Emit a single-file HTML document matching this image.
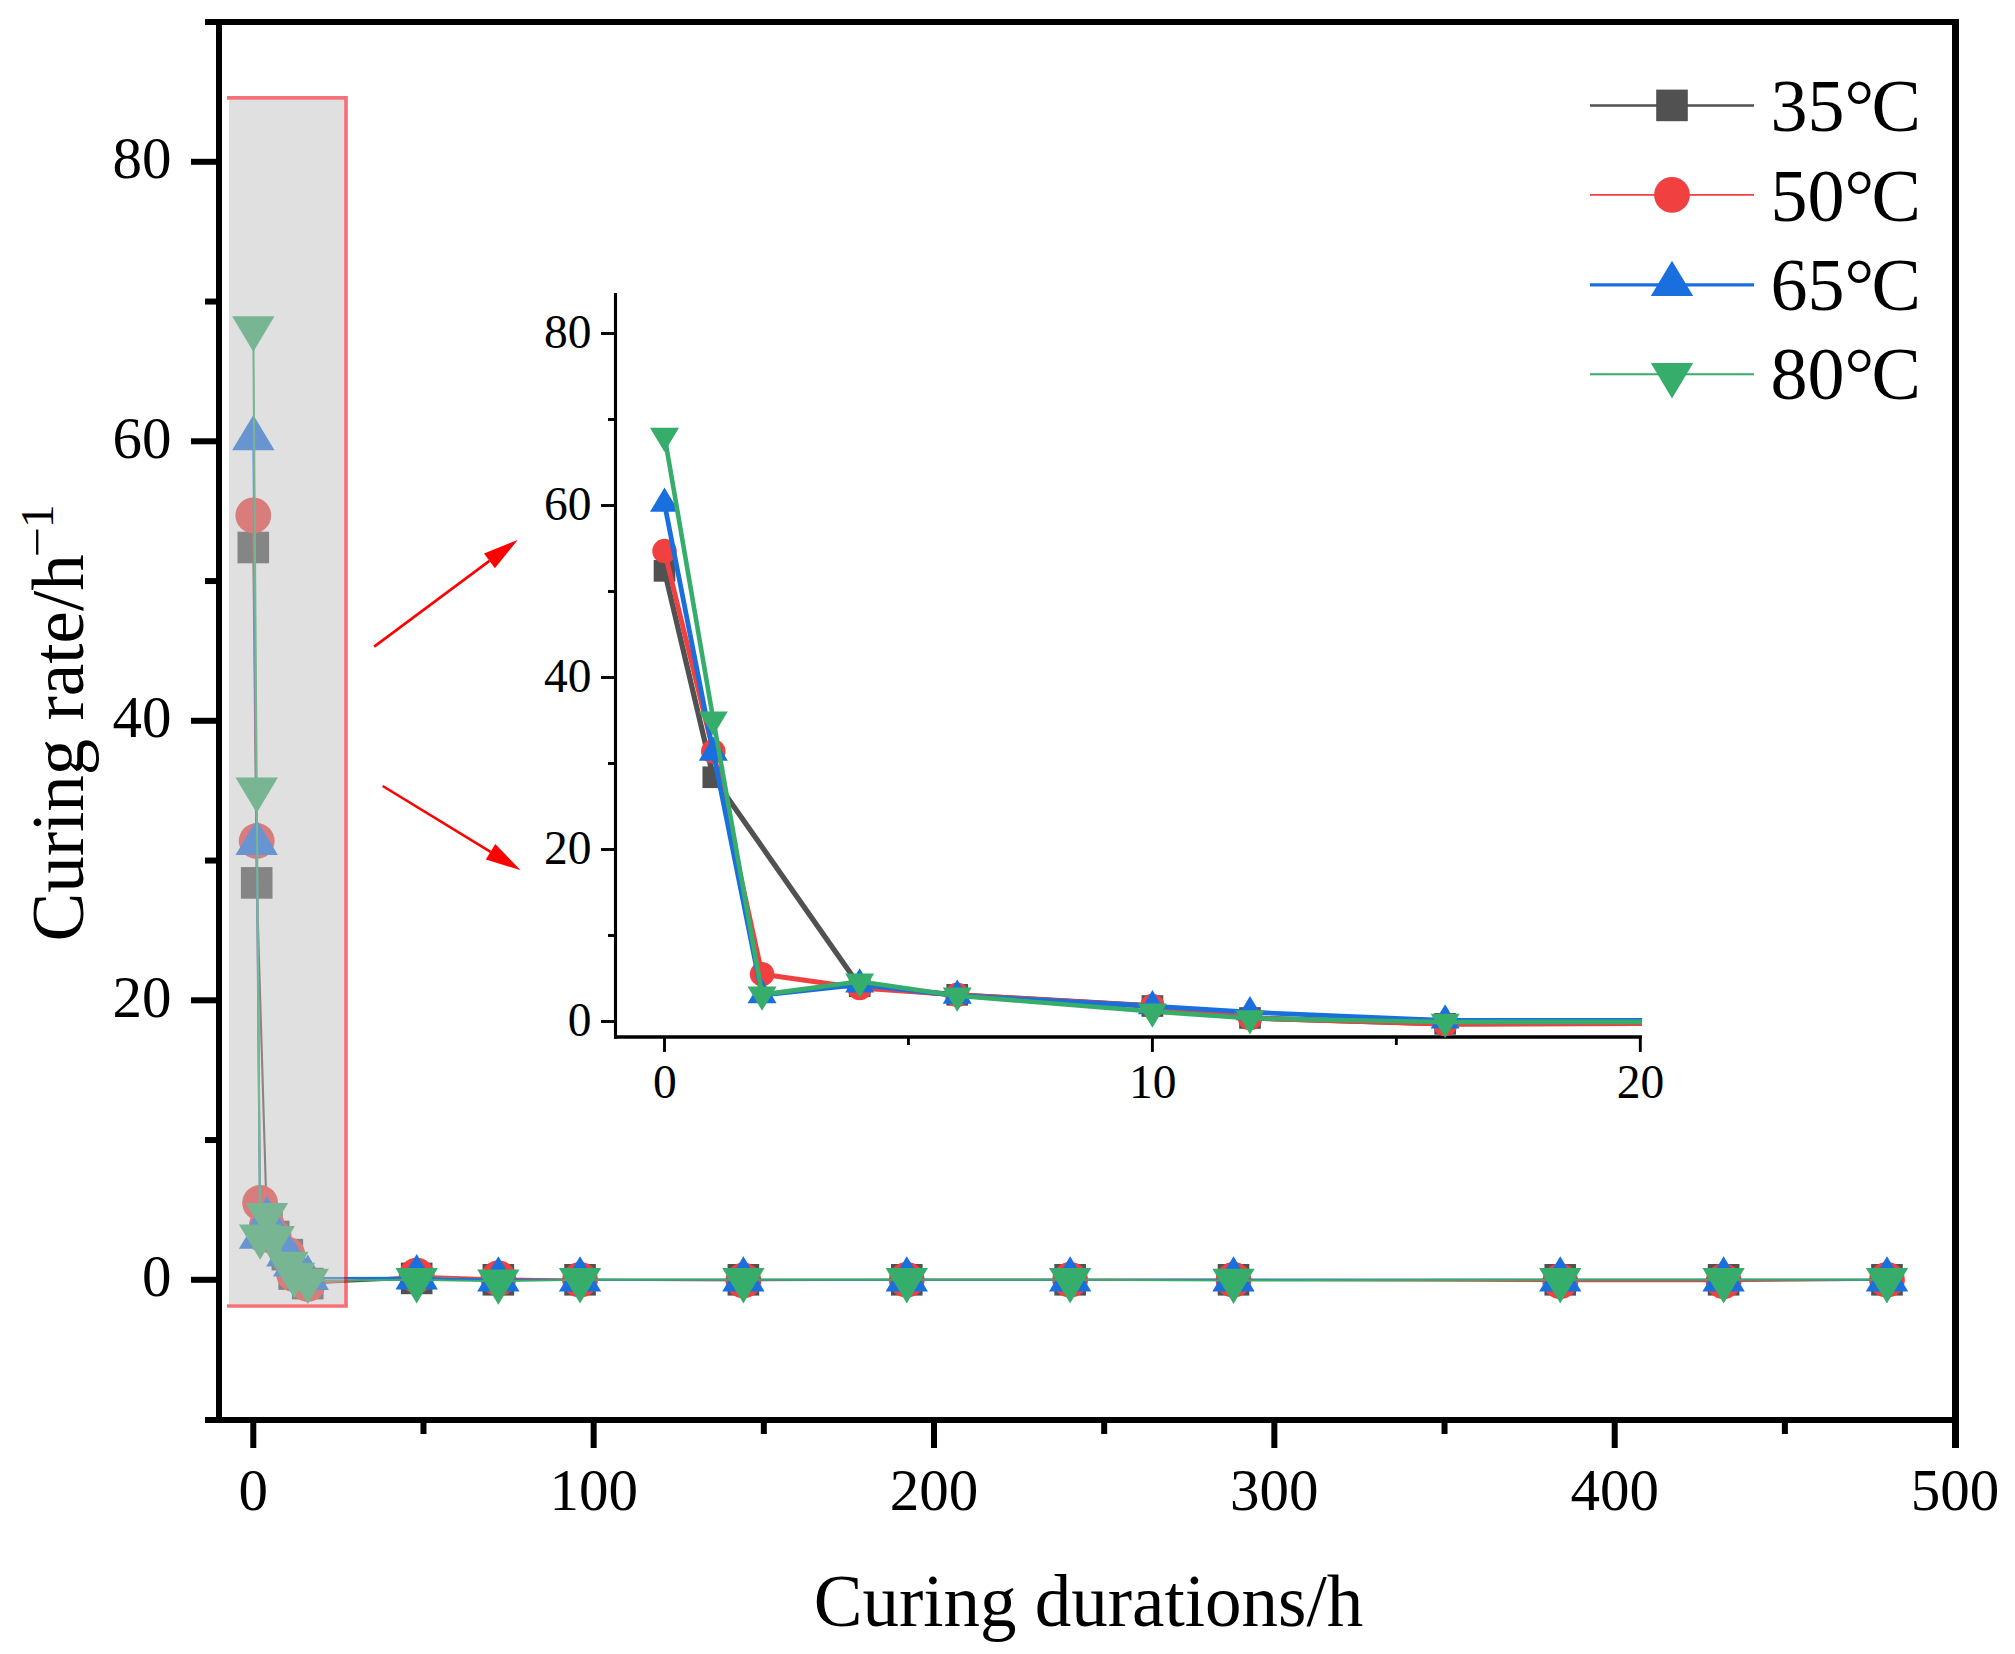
<!DOCTYPE html>
<html lang="en">
<head>
<meta charset="utf-8">
<title>Curing rate vs curing durations</title>
<style>
html,body{margin:0;padding:0;background:#fff;}
body{width:2015px;height:1654px;overflow:hidden;}
svg{display:block;}
text{font-family:"Liberation Serif","Times New Roman",Times,serif;fill:#000;}
.tk{font-size:59px;}
.itk{font-size:47.5px;}
.ttl{font-size:73px;}
.lg{font-size:74px;}
</style>
</head>
<body>
<svg width="2015" height="1654" viewBox="0 0 2015 1654">
<defs>
<clipPath id="insetclip"><rect x="617.8" y="280" width="1024.2" height="755.5"/></clipPath>
<clipPath id="mainclip"><rect x="222" y="25" width="1730" height="1392"/></clipPath>
</defs>
<rect x="0" y="0" width="2015" height="1654" fill="#ffffff"/>

<g clip-path="url(#mainclip)">
<polyline fill="none" stroke="#515151" stroke-width="2.1" stroke-linejoin="round" points="253.3,547.51 256.7,882.91 266.91,1222.5 273.72,1236.48 287.34,1254.64 294.14,1274.07 307.76,1283.57 416.67,1278.4 498.35,1279.8 580.04,1279.8 743.4,1279.8 906.77,1279.8 1070.14,1279.8 1233.51,1279.8 1560.24,1279.8 1723.61,1279.8 1886.98,1279.8"/>
<rect x="237.5" y="531.71" width="31.6" height="31.6" fill="#515151"/>
<rect x="240.9" y="867.11" width="31.6" height="31.6" fill="#515151"/>
<rect x="251.11" y="1206.7" width="31.6" height="31.6" fill="#515151"/>
<rect x="257.92" y="1220.68" width="31.6" height="31.6" fill="#515151"/>
<rect x="271.54" y="1238.85" width="31.6" height="31.6" fill="#515151"/>
<rect x="278.34" y="1258.27" width="31.6" height="31.6" fill="#515151"/>
<rect x="291.96" y="1267.77" width="31.6" height="31.6" fill="#515151"/>
<rect x="400.87" y="1262.6" width="31.6" height="31.6" fill="#515151"/>
<rect x="482.55" y="1264" width="31.6" height="31.6" fill="#515151"/>
<rect x="564.24" y="1264" width="31.6" height="31.6" fill="#515151"/>
<rect x="727.6" y="1264" width="31.6" height="31.6" fill="#515151"/>
<rect x="890.97" y="1264" width="31.6" height="31.6" fill="#515151"/>
<rect x="1054.34" y="1264" width="31.6" height="31.6" fill="#515151"/>
<rect x="1217.71" y="1264" width="31.6" height="31.6" fill="#515151"/>
<rect x="1544.44" y="1264" width="31.6" height="31.6" fill="#515151"/>
<rect x="1707.81" y="1264" width="31.6" height="31.6" fill="#515151"/>
<rect x="1871.18" y="1264" width="31.6" height="31.6" fill="#515151"/>
<polyline fill="none" stroke="#f14040" stroke-width="1.9" stroke-linejoin="round" points="253.3,515.37 256.7,840.99 260.11,1202.94 266.91,1225.3 273.72,1236.48 287.34,1254.64 294.14,1274.21 307.76,1283.99 416.67,1275.61 498.35,1278.4 580.04,1279.8 743.4,1280.5 906.77,1279.8 1070.14,1279.8 1233.51,1279.8 1560.24,1281.2 1723.61,1281.2 1886.98,1279.8"/>
<circle cx="253.3" cy="515.37" r="17.9" fill="#f14040"/>
<circle cx="256.7" cy="840.99" r="17.9" fill="#f14040"/>
<circle cx="260.11" cy="1202.94" r="17.9" fill="#f14040"/>
<circle cx="266.91" cy="1225.3" r="17.9" fill="#f14040"/>
<circle cx="273.72" cy="1236.48" r="17.9" fill="#f14040"/>
<circle cx="287.34" cy="1254.64" r="17.9" fill="#f14040"/>
<circle cx="294.14" cy="1274.21" r="17.9" fill="#f14040"/>
<circle cx="307.76" cy="1283.99" r="17.9" fill="#f14040"/>
<circle cx="416.67" cy="1275.61" r="17.9" fill="#f14040"/>
<circle cx="498.35" cy="1278.4" r="17.9" fill="#f14040"/>
<circle cx="580.04" cy="1279.8" r="17.9" fill="#f14040"/>
<circle cx="743.4" cy="1280.5" r="17.9" fill="#f14040"/>
<circle cx="906.77" cy="1279.8" r="17.9" fill="#f14040"/>
<circle cx="1070.14" cy="1279.8" r="17.9" fill="#f14040"/>
<circle cx="1233.51" cy="1279.8" r="17.9" fill="#f14040"/>
<circle cx="1560.24" cy="1281.2" r="17.9" fill="#f14040"/>
<circle cx="1723.61" cy="1281.2" r="17.9" fill="#f14040"/>
<circle cx="1886.98" cy="1279.8" r="17.9" fill="#f14040"/>
<polyline fill="none" stroke="#1a6fdf" stroke-width="2.0" stroke-linejoin="round" points="253.3,438.5 256.7,843.08 260.11,1237.04 266.91,1219.71 273.72,1237.88 287.34,1254.78 294.14,1264.71 307.76,1278.12 416.67,1277.7 498.35,1279.8 580.04,1279.8 743.4,1279.8 906.77,1279.8 1070.14,1279.8 1233.51,1279.8 1560.24,1279.8 1723.61,1279.8 1886.98,1279.8"/>
<polygon points="253.3,414.9 274.5,450.3 232.1,450.3" fill="#1a6fdf"/>
<polygon points="256.7,819.48 277.9,854.88 235.5,854.88" fill="#1a6fdf"/>
<polygon points="260.11,1213.44 281.31,1248.84 238.91,1248.84" fill="#1a6fdf"/>
<polygon points="266.91,1196.11 288.11,1231.51 245.71,1231.51" fill="#1a6fdf"/>
<polygon points="273.72,1214.28 294.92,1249.67 252.52,1249.67" fill="#1a6fdf"/>
<polygon points="287.34,1231.18 308.54,1266.58 266.14,1266.58" fill="#1a6fdf"/>
<polygon points="294.14,1241.11 315.34,1276.51 272.94,1276.51" fill="#1a6fdf"/>
<polygon points="307.76,1254.52 328.96,1289.92 286.56,1289.92" fill="#1a6fdf"/>
<polygon points="416.67,1254.1 437.87,1289.5 395.47,1289.5" fill="#1a6fdf"/>
<polygon points="498.35,1256.2 519.55,1291.6 477.15,1291.6" fill="#1a6fdf"/>
<polygon points="580.04,1256.2 601.24,1291.6 558.84,1291.6" fill="#1a6fdf"/>
<polygon points="743.4,1256.2 764.6,1291.6 722.2,1291.6" fill="#1a6fdf"/>
<polygon points="906.77,1256.2 927.97,1291.6 885.57,1291.6" fill="#1a6fdf"/>
<polygon points="1070.14,1256.2 1091.34,1291.6 1048.94,1291.6" fill="#1a6fdf"/>
<polygon points="1233.51,1256.2 1254.71,1291.6 1212.31,1291.6" fill="#1a6fdf"/>
<polygon points="1560.24,1256.2 1581.44,1291.6 1539.04,1291.6" fill="#1a6fdf"/>
<polygon points="1723.61,1256.2 1744.81,1291.6 1702.41,1291.6" fill="#1a6fdf"/>
<polygon points="1886.98,1256.2 1908.18,1291.6 1865.78,1291.6" fill="#1a6fdf"/>
<polyline fill="none" stroke="#37ad6b" stroke-width="2.1" stroke-linejoin="round" points="253.3,328.1 256.7,789.28 260.11,1236.2 266.91,1214.82 273.72,1237.88 287.34,1263.59 294.14,1274.63 307.76,1280.5 416.67,1279.8 498.35,1281.2 580.04,1279.8 743.4,1279.8 906.77,1279.8 1070.14,1279.8 1233.51,1280.5 1560.24,1279.8 1723.61,1279.8 1886.98,1279.8"/>
<polygon points="253.3,351.7 274.5,316.3 232.1,316.3" fill="#37ad6b"/>
<polygon points="256.7,812.88 277.9,777.48 235.5,777.48" fill="#37ad6b"/>
<polygon points="260.11,1259.8 281.31,1224.4 238.91,1224.4" fill="#37ad6b"/>
<polygon points="266.91,1238.42 288.11,1203.02 245.71,1203.02" fill="#37ad6b"/>
<polygon points="273.72,1261.47 294.92,1226.08 252.52,1226.08" fill="#37ad6b"/>
<polygon points="287.34,1287.19 308.54,1251.79 266.14,1251.79" fill="#37ad6b"/>
<polygon points="294.14,1298.23 315.34,1262.83 272.94,1262.83" fill="#37ad6b"/>
<polygon points="307.76,1304.1 328.96,1268.7 286.56,1268.7" fill="#37ad6b"/>
<polygon points="416.67,1303.4 437.87,1268 395.47,1268" fill="#37ad6b"/>
<polygon points="498.35,1304.8 519.55,1269.4 477.15,1269.4" fill="#37ad6b"/>
<polygon points="580.04,1303.4 601.24,1268 558.84,1268" fill="#37ad6b"/>
<polygon points="743.4,1303.4 764.6,1268 722.2,1268" fill="#37ad6b"/>
<polygon points="906.77,1303.4 927.97,1268 885.57,1268" fill="#37ad6b"/>
<polygon points="1070.14,1303.4 1091.34,1268 1048.94,1268" fill="#37ad6b"/>
<polygon points="1233.51,1304.1 1254.71,1268.7 1212.31,1268.7" fill="#37ad6b"/>
<polygon points="1560.24,1303.4 1581.44,1268 1539.04,1268" fill="#37ad6b"/>
<polygon points="1723.61,1303.4 1744.81,1268 1702.41,1268" fill="#37ad6b"/>
<polygon points="1886.98,1303.4 1908.18,1268 1865.78,1268" fill="#37ad6b"/>
</g>
<rect x="229" y="99.7" width="115" height="1204.4" fill="rgb(190,190,190)" fill-opacity="0.48"/>
<polyline points="227,97.9 346,97.9 346,1306 227,1306" fill="none" stroke="rgb(237,28,36)" stroke-opacity="0.62" stroke-width="3.7" stroke-linejoin="miter"/>
<g stroke="#000" stroke-width="6" fill="none" stroke-linecap="butt">
<line x1="219" y1="19" x2="219" y2="1423"/>
<line x1="1955.5" y1="19" x2="1955.5" y2="1448" stroke-width="7"/>
<line x1="205" y1="22" x2="1959" y2="22"/>
<line x1="205" y1="1420" x2="1959" y2="1420"/>
<line x1="191" y1="1279.8" x2="217" y2="1279.8"/>
<line x1="191" y1="1000.3" x2="217" y2="1000.3"/>
<line x1="191" y1="720.8" x2="217" y2="720.8"/>
<line x1="191" y1="441.3" x2="217" y2="441.3"/>
<line x1="191" y1="161.8" x2="217" y2="161.8"/>
<line x1="205" y1="1140.05" x2="217" y2="1140.05"/>
<line x1="205" y1="860.55" x2="217" y2="860.55"/>
<line x1="205" y1="581.05" x2="217" y2="581.05"/>
<line x1="205" y1="301.55" x2="217" y2="301.55"/>
<line x1="253.3" y1="1422" x2="253.3" y2="1448"/>
<line x1="593.65" y1="1422" x2="593.65" y2="1448"/>
<line x1="934" y1="1422" x2="934" y2="1448"/>
<line x1="1274.35" y1="1422" x2="1274.35" y2="1448"/>
<line x1="1614.7" y1="1422" x2="1614.7" y2="1448"/>
<line x1="423.48" y1="1422" x2="423.48" y2="1434"/>
<line x1="763.83" y1="1422" x2="763.83" y2="1434"/>
<line x1="1104.17" y1="1422" x2="1104.17" y2="1434"/>
<line x1="1444.53" y1="1422" x2="1444.53" y2="1434"/>
<line x1="1784.88" y1="1422" x2="1784.88" y2="1434"/>
</g>
<g class="tk" text-anchor="end">
<text x="171.5" y="1296.3">0</text>
<text x="171.5" y="1016.8">20</text>
<text x="171.5" y="737.3">40</text>
<text x="171.5" y="457.8">60</text>
<text x="171.5" y="178.3">80</text>
</g>
<g class="tk" text-anchor="middle">
<text x="253.3" y="1510.4">0</text>
<text x="593.65" y="1510.4">100</text>
<text x="934" y="1510.4">200</text>
<text x="1274.35" y="1510.4">300</text>
<text x="1614.7" y="1510.4">400</text>
<text x="1955.05" y="1510.4">500</text>
</g>
<text class="ttl" text-anchor="middle" x="1088.5" y="1626.2">Curing durations/h</text>
<text class="ttl" text-anchor="middle" transform="translate(83.4 723) rotate(-90)">Curing rate/h<tspan font-size="47" dx="-3" dy="-30.3" textLength="30.5" lengthAdjust="spacingAndGlyphs">−</tspan><tspan font-size="47" dx="-1.2">1</tspan></text>
<line x1="1590" y1="105.4" x2="1754" y2="105.4" stroke="#515151" stroke-width="2.5"/>
<rect x="1656.2" y="89.6" width="31.6" height="31.6" fill="#515151"/>
<text class="lg" x="1770.6" y="131.0">35°<tspan dx="-2.8">C</tspan></text>
<line x1="1590" y1="194.9" x2="1754" y2="194.9" stroke="#f14040" stroke-width="1.7"/>
<circle cx="1672" cy="194.9" r="17.9" fill="#f14040"/>
<text class="lg" x="1770.6" y="220.5">50°<tspan dx="-2.8">C</tspan></text>
<line x1="1590" y1="284.9" x2="1754" y2="284.9" stroke="#1a6fdf" stroke-width="3.4"/>
<polygon points="1672,260.7 1693.2,296.1 1650.8,296.1" fill="#1a6fdf"/>
<text class="lg" x="1770.6" y="310.0">65°<tspan dx="-2.8">C</tspan></text>
<line x1="1590" y1="374.3" x2="1754" y2="374.3" stroke="#37ad6b" stroke-width="1.9"/>
<polygon points="1672,398.4 1693.2,363 1650.8,363" fill="#37ad6b"/>
<text class="lg" x="1770.6" y="399.0">80°<tspan dx="-2.8">C</tspan></text>
<line x1="374.2" y1="646.6" x2="489.45" y2="560.9" stroke="#ff0000" stroke-width="2.6"/><polygon points="517.7,539.9 494.88,568.21 484.02,553.6" fill="#ff0000"/>
<line x1="382.7" y1="786" x2="490.56" y2="851.86" stroke="#ff0000" stroke-width="2.6"/><polygon points="520.6,870.2 485.82,859.62 495.3,844.09" fill="#ff0000"/>
<g stroke="#000" fill="none">
<line x1="615.5" y1="293" x2="615.5" y2="1038.8" stroke-width="3.1"/>
<line x1="614" y1="1037.05" x2="1642" y2="1037.05" stroke-width="3.5"/>
</g>
<g stroke="#000" stroke-width="2.9" fill="none">
<line x1="601" y1="1021.5" x2="614.5" y2="1021.5"/>
<line x1="601" y1="849.5" x2="614.5" y2="849.5"/>
<line x1="601" y1="677.5" x2="614.5" y2="677.5"/>
<line x1="601" y1="505.5" x2="614.5" y2="505.5"/>
<line x1="601" y1="333.5" x2="614.5" y2="333.5"/>
<line x1="608" y1="935.5" x2="614.5" y2="935.5"/>
<line x1="608" y1="763.5" x2="614.5" y2="763.5"/>
<line x1="608" y1="591.5" x2="614.5" y2="591.5"/>
<line x1="608" y1="419.5" x2="614.5" y2="419.5"/>
<line x1="664.5" y1="1038" x2="664.5" y2="1051.9"/>
<line x1="1152.4" y1="1038" x2="1152.4" y2="1051.9"/>
<line x1="1640.3" y1="1038" x2="1640.3" y2="1051.9"/>
<line x1="908.45" y1="1038" x2="908.45" y2="1045"/>
<line x1="1396.35" y1="1038" x2="1396.35" y2="1045"/>
</g>
<g class="itk" text-anchor="end">
<text x="591.6" y="1036.3">0</text>
<text x="591.6" y="864.3">20</text>
<text x="591.6" y="692.3">40</text>
<text x="591.6" y="520.3">60</text>
<text x="591.6" y="348.3">80</text>
</g>
<g class="itk" text-anchor="middle">
<text x="664.8" y="1097.9">0</text>
<text x="1152.7" y="1097.9">10</text>
<text x="1640.6" y="1097.9">20</text>
</g>
<polyline clip-path="url(#insetclip)" fill="none" stroke="#515151" stroke-width="5.3" stroke-linejoin="round" points="664.5,570.86 713.29,777.26 859.66,986.24 957.24,994.84 1152.4,1006.02 1249.98,1017.97 1445.14,1023.82 3006.42,1020.64"/>
<rect x="653.68" y="560.04" width="21.65" height="21.65" fill="#515151"/>
<rect x="702.47" y="766.44" width="21.65" height="21.65" fill="#515151"/>
<rect x="848.84" y="975.42" width="21.65" height="21.65" fill="#515151"/>
<rect x="946.42" y="984.02" width="21.65" height="21.65" fill="#515151"/>
<rect x="1141.58" y="995.2" width="21.65" height="21.65" fill="#515151"/>
<rect x="1239.16" y="1007.15" width="21.65" height="21.65" fill="#515151"/>
<rect x="1434.32" y="1013" width="21.65" height="21.65" fill="#515151"/>
<polyline clip-path="url(#insetclip)" fill="none" stroke="#f14040" stroke-width="4.9" stroke-linejoin="round" points="664.5,551.08 713.29,751.46 762.08,974.2 859.66,987.96 957.24,994.84 1152.4,1006.02 1249.98,1018.06 1445.14,1024.08 3006.42,1018.92"/>
<circle cx="664.5" cy="551.08" r="12.26" fill="#f14040"/>
<circle cx="713.29" cy="751.46" r="12.26" fill="#f14040"/>
<circle cx="762.08" cy="974.2" r="12.26" fill="#f14040"/>
<circle cx="859.66" cy="987.96" r="12.26" fill="#f14040"/>
<circle cx="957.24" cy="994.84" r="12.26" fill="#f14040"/>
<circle cx="1152.4" cy="1006.02" r="12.26" fill="#f14040"/>
<circle cx="1249.98" cy="1018.06" r="12.26" fill="#f14040"/>
<circle cx="1445.14" cy="1024.08" r="12.26" fill="#f14040"/>
<polyline clip-path="url(#insetclip)" fill="none" stroke="#1a6fdf" stroke-width="4.8" stroke-linejoin="round" points="664.5,503.78 713.29,752.75 762.08,995.18 859.66,984.52 957.24,995.7 1152.4,1006.11 1249.98,1012.21 1445.14,1020.47 3006.42,1020.21"/>
<polygon points="664.5,487.61 679.02,511.86 649.98,511.86" fill="#1a6fdf"/>
<polygon points="713.29,736.58 727.81,760.83 698.77,760.83" fill="#1a6fdf"/>
<polygon points="762.08,979.02 776.6,1003.27 747.56,1003.27" fill="#1a6fdf"/>
<polygon points="859.66,968.35 874.18,992.6 845.14,992.6" fill="#1a6fdf"/>
<polygon points="957.24,979.53 971.76,1003.78 942.72,1003.78" fill="#1a6fdf"/>
<polygon points="1152.4,989.94 1166.92,1014.19 1137.88,1014.19" fill="#1a6fdf"/>
<polygon points="1249.98,996.05 1264.5,1020.29 1235.46,1020.29" fill="#1a6fdf"/>
<polygon points="1445.14,1004.3 1459.66,1028.55 1430.62,1028.55" fill="#1a6fdf"/>
<polyline clip-path="url(#insetclip)" fill="none" stroke="#37ad6b" stroke-width="4.6" stroke-linejoin="round" points="664.5,435.84 713.29,719.64 762.08,994.67 859.66,981.51 957.24,995.7 1152.4,1011.52 1249.98,1018.32 1445.14,1021.93 3006.42,1021.5"/>
<polygon points="664.5,452.01 679.02,427.76 649.98,427.76" fill="#37ad6b"/>
<polygon points="713.29,735.81 727.81,711.56 698.77,711.56" fill="#37ad6b"/>
<polygon points="762.08,1010.83 776.6,986.59 747.56,986.59" fill="#37ad6b"/>
<polygon points="859.66,997.68 874.18,973.43 845.14,973.43" fill="#37ad6b"/>
<polygon points="957.24,1011.87 971.76,987.62 942.72,987.62" fill="#37ad6b"/>
<polygon points="1152.4,1027.69 1166.92,1003.44 1137.88,1003.44" fill="#37ad6b"/>
<polygon points="1249.98,1034.48 1264.5,1010.24 1235.46,1010.24" fill="#37ad6b"/>
<polygon points="1445.14,1038.1 1459.66,1013.85 1430.62,1013.85" fill="#37ad6b"/>
</svg>
</body>
</html>
